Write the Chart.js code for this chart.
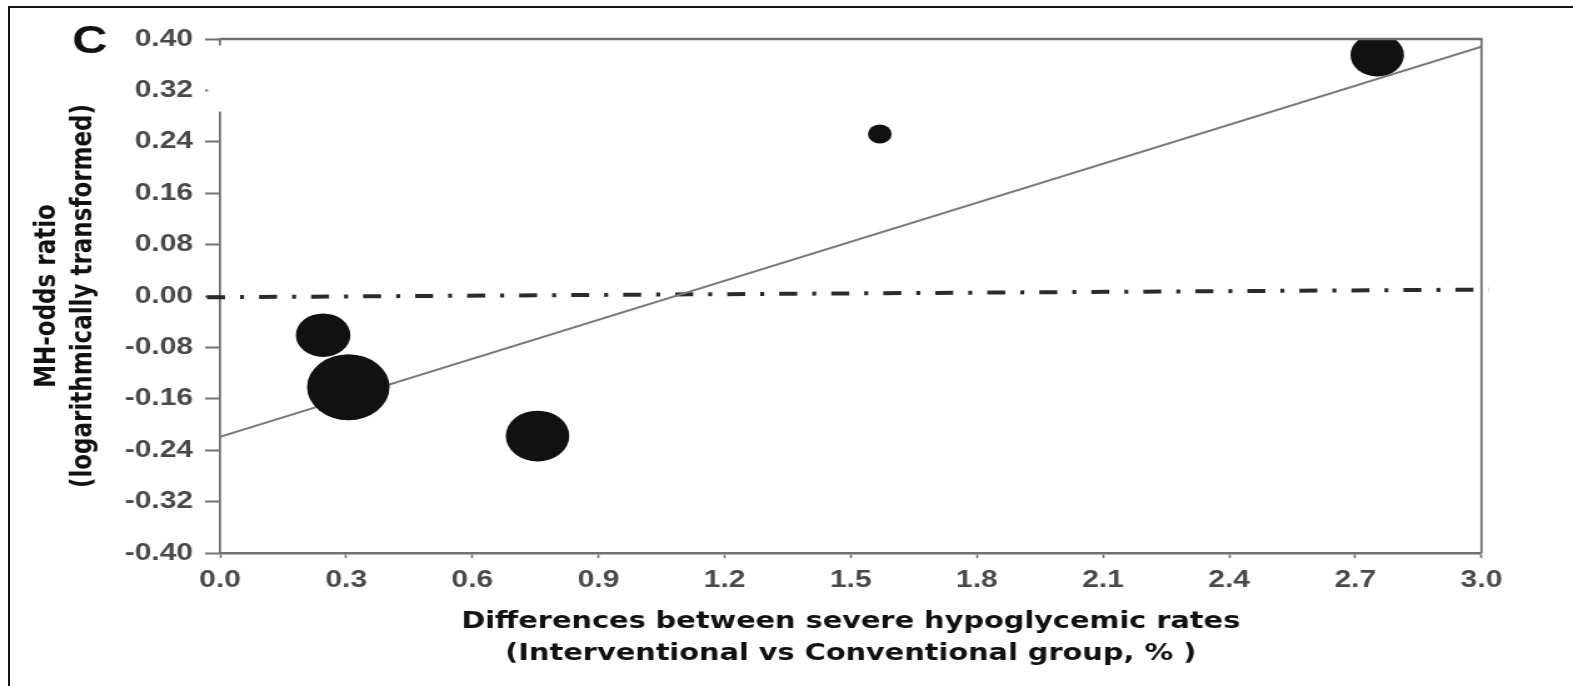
<!DOCTYPE html>
<html>
<head>
<meta charset="utf-8">
<script src="https://cdn.jsdelivr.net/npm/chart.js@4.4.1/dist/chart.umd.min.js"></script>
<style>
  html, body { margin: 0; padding: 0; background: #fff; }
  body { width: 1573px; height: 686px; position: relative; overflow: hidden; }
  #frame {
    position: absolute; left: 8px; top: 6px; right: -10px; bottom: -10px;
    border-top: 2px solid #161616; border-left: 2.5px solid #161616;
  }
  /* the figure is drawn narrow and stretched sideways */
  #wrap {
    position: absolute; left: 0; top: 0; width: 1258px; height: 686px;
    transform-origin: 0 0; transform: scaleX(1.2504);
  }
</style>
</head>
<body>
<div id="frame"></div>
<div id="wrap"><canvas id="metaChart"></canvas></div>
<script>
// tick values
const xTicks = [0, 0.3, 0.6, 0.9, 1.2, 1.5, 1.8, 2.1, 2.4, 2.7, 3.0];
const yTicks = [-0.40, -0.32, -0.24, -0.16, -0.08, 0, 0.08, 0.16, 0.24, 0.32, 0.40];

// one bubble per trial
const rateDiff = [0.245, 0.305, 0.755, 1.569, 2.752];
const logOddsRatio = [-0.061, -0.142, -0.218, 0.252, 0.375];
const studyWeight = [2.18, 3.3, 2.54, 0.95, 2.14];

// meta-regression line
const fitX = [0, 3.0];
const fitY = [-0.219, 0.388];

// no-effect reference line
const nullX = [-0.031, 3.017];
const nullY = [-0.002, 0.010];

const axisColor = '#707070';
const tickFont = { family: 'Liberation Sans, Arial, sans-serif', size: 24, weight: 'bold' };
const titleFont = { family: 'DejaVu Sans, sans-serif', size: 23, weight: 'bold' };

const toPoints = (xs, ys) => xs.map((x, i) => ({ x: x, y: ys[i] }));

// top/right box lines, the panel letter and a blank strip on the y axis
const decorations = {
  id: 'decorations',
  afterDraw(chart) {
    const { ctx, chartArea } = chart;
    const y = chart.scales.y;
    ctx.save();
    ctx.strokeStyle = axisColor;
    ctx.lineWidth = 2.5;
    ctx.beginPath();
    ctx.moveTo(chartArea.left, chartArea.top);
    ctx.lineTo(chartArea.right + 0.9, chartArea.top);
    ctx.stroke();
    ctx.lineWidth = 1.8;
    ctx.beginPath();
    ctx.moveTo(chartArea.right, chartArea.top);
    ctx.lineTo(chartArea.right, chartArea.bottom);
    ctx.stroke();

    const top = y.getPixelForValue(0.39);
    const bottom = y.getPixelForValue(0.287);
    ctx.fillStyle = '#fff';
    ctx.fillRect(chartArea.left - 9.6, top, 12, bottom - top);

    ctx.fillStyle = '#111';
    ctx.font = 'bold 39px "Liberation Sans", Arial, sans-serif';
    ctx.textAlign = 'center';
    ctx.textBaseline = 'alphabetic';
    ctx.fillText('C', 71.8, 53);
    ctx.restore();
  }
};

new Chart(document.getElementById('metaChart'), {
  type: 'bubble',
  data: {
    datasets: [{
      label: 'Trials',
      data: rateDiff.map((x, i) => ({ x: x, y: logOddsRatio[i], r: studyWeight[i] * 10 })),
      backgroundColor: '#111',
      borderWidth: 0,
      order: 0
    }, {
      type: 'line',
      label: 'Regression',
      data: toPoints(fitX, fitY),
      borderColor: '#7a7a7a',
      borderWidth: 2,
      pointRadius: 0,
      fill: false,
      order: 1
    }, {
      type: 'line',
      label: 'No effect',
      data: toPoints(nullX, nullY),
      borderColor: '#2a2a2a',
      borderWidth: 4,
      borderDash: [14.4, 12, 3.2, 12],
      borderCapStyle: 'butt',
      pointRadius: 0,
      fill: false,
      clip: false,
      order: 2
    }]
  },
  options: {
    responsive: true,
    maintainAspectRatio: false,
    animation: false,
    layout: { padding: { left: 0, top: 39, right: 73.2, bottom: 0 } },
    plugins: { legend: { display: false }, tooltip: { enabled: false } },
    scales: {
      x: {
        type: 'linear',
        min: 0,
        max: 3.0,
        afterBuildTicks: (scale) => { scale.ticks = xTicks.map(v => ({ value: v })); },
        afterFit: (scale) => { scale.height = 133; },
        ticks: {
          callback: (v) => v.toFixed(1),
          font: tickFont,
          color: '#4a4a4a',
          padding: 8,
          maxRotation: 0,
          autoSkip: false
        },
        grid: { drawOnChartArea: false, tickLength: 5, tickColor: axisColor, tickWidth: 1.6 },
        border: { display: true, color: axisColor, width: 2.5 },
        title: {
          display: true,
          text: ['Differences between severe hypoglycemic rates', '(Interventional vs Conventional group, % )'],
          font: Object.assign({ lineHeight: 1.39 }, titleFont),
          color: '#111',
          padding: { top: 0, bottom: 16 }
        }
      },
      y: {
        type: 'linear',
        min: -0.40,
        max: 0.40,
        afterBuildTicks: (scale) => { scale.ticks = yTicks.map(v => ({ value: v })); },
        afterFit: (scale) => { scale.width = 176; },
        ticks: {
          callback: (v) => v.toFixed(2),
          font: tickFont,
          color: '#4a4a4a',
          padding: 9.6,
          autoSkip: false
        },
        grid: { drawOnChartArea: false, tickLength: 12, tickColor: axisColor, tickWidth: 2 },
        border: { display: true, color: axisColor, width: 1.8 },
        title: {
          display: true,
          text: ['MH-odds ratio', '(logarithmically transformed)'],
          font: Object.assign({ lineHeight: 1.25 }, titleFont),
          color: '#111',
          padding: { top: 24, bottom: 0 }
        }
      }
    }
  },
  plugins: [decorations]
});
</script>
</body>
</html>
